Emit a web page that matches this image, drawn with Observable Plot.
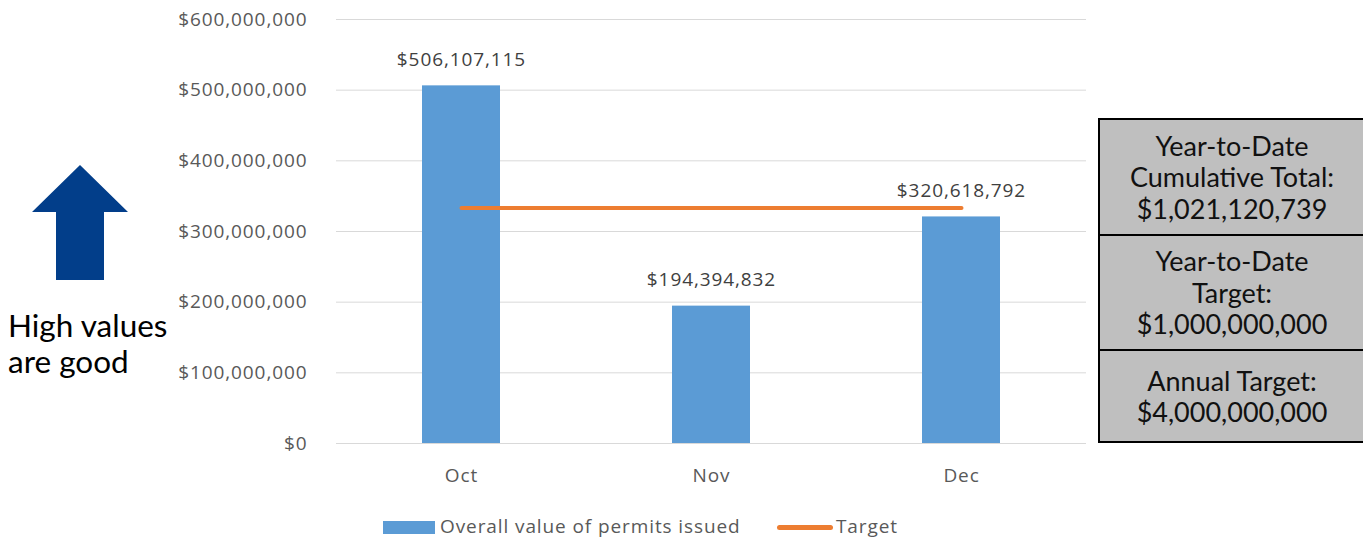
<!DOCTYPE html>
<html>
<head>
<meta charset="utf-8">
<script src="https://cdn.jsdelivr.net/npm/d3@7"></script>
<script src="https://cdn.jsdelivr.net/npm/@observablehq/plot@0.6"></script>
<style>
  html, body { margin: 0; padding: 0; background: #fff; }
  #wrap { position: relative; width: 1363px; height: 540px; overflow: hidden; font-family: Lato, "Open Sans", sans-serif; }
  #chart { position: absolute; left: 0; top: 0; }
  #arrow { position: absolute; left: 0; top: 150px; }
  #good { position: absolute; left: 8px; top: 307px; font-size: 31.5px; line-height: 36px; color: #000; }
  #box { position: absolute; left: 1098px; top: 118px; width: 266px; border: 2px solid #000; border-right: none; background: #bfbfbf; box-sizing: border-box; }
  #box div { text-align: center; font-size: 27px; line-height: 31.5px; color: #111; box-sizing: border-box; display: flex; flex-direction: column; justify-content: center; }
  #box div + div { border-top: 2px solid #000; }
  #legend { position: absolute; top: 514px; left: 0; width: 1363px; font-family: "Open Sans", sans-serif; font-size: 19px; letter-spacing: 0.9px; color: #595959; }
  .sw { position: absolute; }
</style>
</head>
<body>
<div id="wrap">
  <div id="chart"></div>
  <svg id="arrow" width="140" height="140"><polygon points="80,15 128,62 104,62 104,130 56,130 56,62 32,62" fill="#023e8a"/></svg>
  <div id="good">High values<br>are good</div>
  <div id="box"></div>
  <div id="legend"></div>
</div>
<script>
const months = ["Oct", "Nov", "Dec"];
const values = [506107115, 194394832, 320618792];
const target = 333333333;
const yTicks = [0, 100000000, 200000000, 300000000, 400000000, 500000000, 600000000];
const seriesNames = ["Overall value of permits issued", "Target"];
const boxRows = [
  ["Year-to-Date", "Cumulative Total:", "$1,021,120,739"],
  ["Year-to-Date", "Target:", "$1,000,000,000"],
  ["Annual Target:", "$4,000,000,000"]
];
const boxHeights = [116, 115, 92];

const barColor = "#5b9bd5";
const lineColor = "#ed7d31";
const data = months.map((m, i) => ({month: m, value: values[i], target}));
const money = d => "$" + d3.format(",")(d);

const chart = Plot.plot({
  width: 1363,
  height: 500,
  marginLeft: 336,
  marginRight: 277,
  marginTop: 19,
  marginBottom: 57,
  style: {fontFamily: "'Open Sans', sans-serif", fontSize: "19px", letterSpacing: "0.9px", color: "#595959", background: "transparent"},
  x: {domain: months, paddingInner: 0.688, paddingOuter: 0.344, label: null},
  y: {domain: [0, 600000000], label: null},
  marks: [
    Plot.gridY(yTicks, {stroke: "#d9d9d9", strokeOpacity: 1, strokeWidth: 1}),
    Plot.barY(data, {x: "month", y: "value", fill: barColor}),
    Plot.lineY(data, {x: "month", y: "target", stroke: lineColor, strokeWidth: 4, strokeLinecap: "round"}),
    Plot.text(data, {x: "month", y: "value", text: d => money(d.value), dy: -26, fill: "#404040", fontSize: 19}),
    Plot.axisY({ticks: yTicks, tickSize: 0, tickPadding: 29, tickFormat: money, label: null}),
    Plot.axisX({tickSize: 0, tickPadding: 25, label: null})
  ]
});
document.getElementById("chart").appendChild(chart);

const box = document.getElementById("box");
boxRows.forEach((r, i) => {
  const d = document.createElement("div");
  d.style.height = (boxHeights[i] - (i === 0 ? 2 : 0)) + "px";
  d.innerHTML = r.join("<br>");
  box.appendChild(d);
});

const legend = document.getElementById("legend");
legend.innerHTML =
  `<div class="sw" style="left:383px;top:7px;width:52px;height:13px;background:${barColor}"></div>` +
  `<div class="sw" style="left:440px;top:-1px;">${seriesNames[0]}</div>` +
  `<div class="sw" style="left:777px;top:11px;width:56px;height:5px;border-radius:3px;background:${lineColor}"></div>` +
  `<div class="sw" style="left:836px;top:-1px;">${seriesNames[1]}</div>`;
</script>
</body>
</html>
